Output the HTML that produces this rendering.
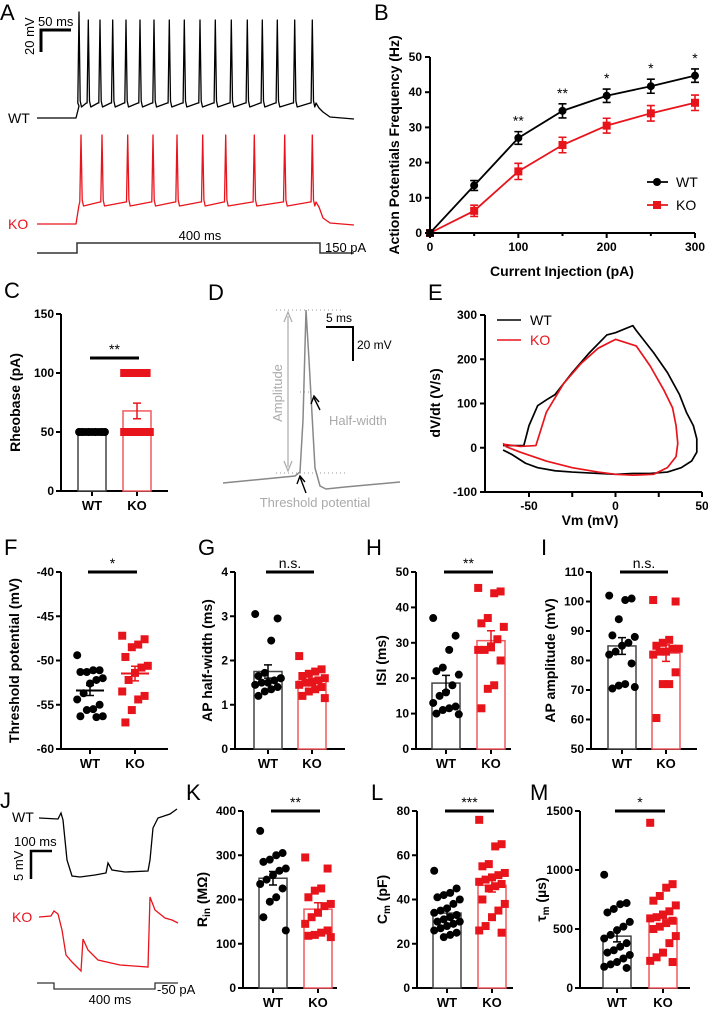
<!DOCTYPE html>
<html><head><meta charset="utf-8">
<style>
html,body{margin:0;padding:0;background:#fff;}
svg{display:block;font-family:"Liberation Sans",Arial,sans-serif;}
.tk{font-size:12px;font-weight:bold;}
.tt{font-size:14px;font-weight:bold;}
.lt{font-size:22px;}
</style></head>
<body>
<svg id="fig" width="708" height="1010" viewBox="0 0 708 1010" xmlns="http://www.w3.org/2000/svg">
<g id="gA"></g>
<g id="gB"></g>
<g id="gC"></g>
<g id="gD"></g>
<g id="gE"></g>
<g id="gDots"></g>
<g id="gJ"></g>
</svg>
<script>
// ---- Panel B data ----
var bCurrents=[0,50,100,150,200,250,300];
var bWT=[0,13.5,27,34.7,39,41.7,44.7];
var bWTerr=[0.8,1.4,1.8,2,1.9,2,1.9];
var bKO=[0,6.3,17.5,25,30.5,34,37];
var bKOerr=[0.8,1.6,2.3,2.2,2.1,2.2,2.2];
var bStars=["","","**","**","*","*","*"];
var bYTicks=[0,10,20,30,40,50];
var bXTicks=[0,100,200,300];
// ---- Panel A spike times (x in px along trace) ----
var aWTSpikes=[79,88.3,100,112.7,126,140,154,169.3,184.3,200,215.3,231.3,247.3,262.3,277.3,294.7,312.3];
var aKOSpikes=[81,102,127.7,153,177,202.7,225.7,254.3,284.7,312.3];
// ---- Panel C ----
var cWT=[50,50,50,50,50,50,50,50,50,50,50,50,50,50,50];
var cKO=[50,50,50,50,50,50,50,50,50,100,100,100,100,100];
// ---- Panel E loops [Vm, dV/dt] ----
var eWTv=[-65,-60,-52,-45,-35,-25,-10,0,10,20,30,38,44,47,47,45,41,37,30,22,12,10,0,-5,-15,-25,-35,-40,-45,-50,-53,-65];
var eWTd=[-5,-15,-35,-45,-52,-55,-58,-60,-58,-58,-55,-45,-30,-10,20,50,80,120,170,215,265,276,260,255,215,170,120,108,95,50,5,5];
var eKOv=[-65,-63,-55,-40,-25,-10,0,10,22,30,35,36,35,33,28,20,12,0,-10,-20,-30,-40,-46,-55,-65];
var eKOd=[10,2,-10,-30,-45,-55,-60,-62,-60,-45,-20,10,50,90,130,185,230,245,225,190,145,80,5,3,8];
// ---- scatter panels ----
var fWT=[-49.4,-51.1,-51.1,-51.3,-51.3,-52,-52.2,-52.6,-53.7,-54.4,-55,-55.5,-55.6,-56.3,-56.3,-56.4];
var fKO=[-47.2,-47.6,-48.2,-48.5,-49.6,-50.6,-50.8,-51.4,-52.2,-53.5,-54.0,-54.4,-55.6,-57.0];
var gWT=[3.05,2.95,2.45,1.72,1.65,1.6,1.55,1.5,1.5,1.45,1.4,1.35,1.3,1.2,1.6];
var gKO=[2.1,1.8,1.75,1.7,1.65,1.6,1.55,1.5,1.5,1.45,1.4,1.35,1.3,1.2,1.15];
var hWT=[37,32,28,23,22,21,18,16,15,13,12,11.5,11,10,9.8];
var hKO=[45.5,44.5,44,37,35.5,34.5,31,29,28,28,25,18,17,11.5];
var iWT=[102,101,100.5,94,88.5,88,86,85,83,82,79,72,71.5,70.5,71];
var iKO=[100.5,100,87,86,85,84,84,83,83,82,76,72,72,60.5];
var kWT=[355,305,300,290,285,270,265,255,245,235,225,205,195,160,130];
var kKO=[295,270,225,220,205,190,185,170,160,145,130,125,120,118,115];
var lWT=[53,45,43,42,41,40,38,36,35,34,33,32,31,30,30,29,28,27,26,25,24,23];
var lKO=[76,65,64,56,55,52,51,50,49,48,47,46,45,40,38,35,32,28,26,25];
var mWT=[960,720,710,670,640,560,520,490,450,420,380,350,320,300,280,250,220,200,180,170];
var mKO=[1400,880,850,780,740,700,650,620,600,590,570,550,520,500,440,380,300,260,230,220];

var NS="http://www.w3.org/2000/svg";
function mk(parent,tag,attrs,txt){var e=document.createElementNS(NS,tag);for(var k in attrs)e.setAttribute(k,attrs[k]);if(txt!==undefined)e.textContent=txt;parent.appendChild(e);return e;}
function lin(d0,d1,r0,r1){return function(v){return r0+(v-d0)*(r1-r0)/(d1-d0);};}
function mean(a){var s=0;for(var i=0;i<a.length;i++)s+=a[i];return s/a.length;}
function sem(a){var m=mean(a),s=0;for(var i=0;i<a.length;i++)s+=(a[i]-m)*(a[i]-m);return Math.sqrt(s/(a.length-1))/Math.sqrt(a.length);}
function letter(g,t,x,y){var e=mk(g,'text',{x:x,y:y,'class':'lt'},t);

}

// ===== Panel A =====
(function(){
var g=document.getElementById('gA');
letter(g,'A',0,20);
function trace(spikes,base,plat,peak,firstPeak,col,name){
 var d='M37,'+base+' L76,'+base+' L79,'+(plat+2);
 for(var i=0;i<spikes.length;i++){var s=spikes[i];var p=(i==0&&firstPeak)?firstPeak:peak;
  d+=' L'+(s-1.2)+','+(plat-1)+' L'+s+','+p+' L'+(s+1.2)+','+(plat-3)+' L'+(s+2.5)+','+(plat+3);
  if(i<spikes.length-1){d+=' L'+(spikes[i+1]-2)+','+(plat-1);} }
 d+=' L316,'+(plat-1)+' L319,'+(plat+4)+' L323,'+(base-6)+' L330,'+(base-1)+' L354,'+(base+1);
 var p=mk(g,'path',{d:d,fill:'none',stroke:col,'stroke-width':1.3,'stroke-linejoin':'round'});
 
 
}
trace(aWTSpikes,118,104,20,12,'#000','wt-trace');
trace(aKOSpikes,224,203,135,null,'#e8141c','ko-trace');
var st=mk(g,'path',{d:'M37,253 L77,253 L77,243 L320,243 L320,253 L354,253',fill:'none',stroke:'#333','stroke-width':1.5});

mk(g,'text',{x:200,y:240,'font-size':13,'text-anchor':'middle'},'400 ms');
mk(g,'text',{x:325,y:252,'font-size':13},'150 pA');
mk(g,'text',{x:8,y:123,'font-size':14},'WT');
mk(g,'text',{x:8,y:229,'font-size':14,fill:'#e8141c'},'KO');
var sb=mk(g,'path',{d:'M71,30 L41,30 L41,52',fill:'none',stroke:'#000','stroke-width':3});

mk(g,'text',{x:38,y:26,'font-size':13},'50 ms');
mk(g,'text',{x:0,y:0,'font-size':13,transform:'translate(34,55) rotate(-90)'},'20 mV');
})();

// ===== Panel B =====
(function(){
var g=document.getElementById('gB');
letter(g,'B',374,20);
var X=lin(0,300,430,695),Y=lin(0,50,233,57);
mk(g,'line',{x1:430,y1:Y(50),x2:430,y2:233,stroke:'#000','stroke-width':2});
mk(g,'line',{x1:430,y1:233,x2:695,y2:233,stroke:'#000','stroke-width':2});
bYTicks.forEach(function(t){mk(g,'line',{x1:425,y1:Y(t),x2:430,y2:Y(t),stroke:'#000','stroke-width':2});mk(g,'text',{x:422,y:Y(t)+4,'text-anchor':'end','class':'tk'},t);});
bCurrents.forEach(function(t){mk(g,'line',{x1:X(t),y1:233,x2:X(t),y2:(t%100==0?238:236),stroke:'#000','stroke-width':2});});
bXTicks.forEach(function(t){mk(g,'text',{x:X(t),y:251,'text-anchor':'middle','class':'tk'},t);});
mk(g,'text',{x:562,y:276,'text-anchor':'middle','class':'tt'},'Current Injection (pA)');
mk(g,'text',{x:0,y:0,'text-anchor':'middle','class':'tt',transform:'translate(399,145) rotate(-90)'},'Action Potentials Frequency (Hz)');
function series(vals,errs,col,sq,name){
 var d='';vals.forEach(function(v,i){d+=(i?' L':'M')+X(bCurrents[i])+','+Y(v);});
 var p=mk(g,'path',{d:d,fill:'none',stroke:col,'stroke-width':1.8});
 
 vals.forEach(function(v,i){var x=X(bCurrents[i]);
  mk(g,'path',{d:'M'+(x-4)+','+Y(v+errs[i])+' H'+(x+4)+' M'+x+','+Y(v+errs[i])+' V'+Y(v-errs[i])+' M'+(x-4)+','+Y(v-errs[i])+' H'+(x+4),stroke:col,'stroke-width':1.6,fill:'none'});
  var m=sq?mk(g,'rect',{x:x-4,y:Y(v)-4,width:8,height:8,fill:col}):mk(g,'circle',{cx:x,cy:Y(v),r:4,fill:col});
  
 });
}
series(bKO,bKOerr,'#e8141c',true,'ko');
series(bWT,bWTerr,'#000',false,'wt');
bStars.forEach(function(s,i){if(s)mk(g,'text',{x:X(bCurrents[i]),y:Y(bWT[i]+bWTerr[i])-6,'text-anchor':'middle','font-size':14},s);});
mk(g,'line',{x1:647,y1:182,x2:668,y2:182,stroke:'#000','stroke-width':1.8});mk(g,'circle',{cx:657,cy:182,r:4,fill:'#000'});
mk(g,'text',{x:676,y:187,'font-size':14},'WT');
mk(g,'line',{x1:647,y1:205,x2:668,y2:205,stroke:'#e8141c','stroke-width':1.8});mk(g,'rect',{x:653,y:201,width:8,height:8,fill:'#e8141c'});
mk(g,'text',{x:676,y:210,'font-size':14},'KO');
})();

// ===== generic bar/scatter panel =====
function panel(o){
 var g=mk(document.getElementById(o.parent),'g',{});
 
 
 letter(g,o.letter,o.lx,o.ly);
 var Y=lin(o.min,o.max,o.y0,o.y1);
 mk(g,'line',{x1:o.ax,y1:o.y1,x2:o.ax,y2:o.y0,stroke:'#000','stroke-width':2});
 mk(g,'line',{x1:o.ax,y1:o.y0,x2:o.xend,y2:o.y0,stroke:'#000','stroke-width':2});
 o.ticks.forEach(function(t){mk(g,'line',{x1:o.ax-5,y1:Y(t),x2:o.ax,y2:Y(t),stroke:'#000','stroke-width':2});mk(g,'text',{x:o.ax-7,y:Y(t)+4,'text-anchor':'end','class':'tk'},t);});
 [[o.wx,'WT'],[o.kx,'KO']].forEach(function(p){mk(g,'line',{x1:p[0],y1:o.y0,x2:p[0],y2:o.y0+5,stroke:'#000','stroke-width':2});mk(g,'text',{x:p[0],y:o.y0+19,'text-anchor':'middle','font-size':13,'font-weight':'bold'},p[1]);});
 var tl=mk(g,'text',{x:0,y:0,'text-anchor':'middle','class':'tt',transform:'translate('+o.tx+','+((o.y0+o.y1)/2)+') rotate(-90)'});
 tl.innerHTML=o.title;
 [[o.wt,o.wx,'#000',false,'wt'],[o.ko,o.kx,'#e8141c',true,'ko']].forEach(function(s){
  var m=mean(s[0]),e=sem(s[0]),x=s[1],c=s[2];
  if(o.bars){var b=mk(g,'rect',{x:x-14,y:Y(m),width:28,height:o.y0-Y(m),fill:'#fff',stroke:s[3]?'#f05a5f':'#444','stroke-width':1.5});
   }
  s[0].forEach(function(v,i){var j=((i*7)%9-4)*3.2;var pt;
   if(s[3]){pt=mk(g,'rect',{x:x+j-4,y:Y(v)-4,width:8,height:8,fill:c});}else{pt=mk(g,'circle',{cx:x+j,cy:Y(v),r:4,fill:c});}
   });
  mk(g,'path',{d:'M'+(x-4)+','+Y(m+e)+' H'+(x+4)+' M'+x+','+Y(m+e)+' V'+Y(m-e)+' M'+(x-4)+','+Y(m-e)+' H'+(x+4),stroke:c,'stroke-width':1.5,fill:'none'});
  if(!o.bars)mk(g,'line',{x1:x-14,y1:Y(m),x2:x+14,y2:Y(m),stroke:c,'stroke-width':2});
 });
 var sy=o.sigY||o.y1;
 mk(g,'line',{x1:o.wx-2,y1:sy,x2:o.kx+2,y2:sy,stroke:'#000','stroke-width':3});
 mk(g,'text',{x:(o.wx+o.kx)/2,y:sy-4,'text-anchor':'middle','font-size':14},o.sig);
}
panel({parent:'gC',name:'rheobase-chart',letter:'C',lx:4,ly:298,ax:61,xend:168,y0:491,y1:314,min:0,max:150,ticks:[0,50,100,150],wx:92,kx:137,wt:cWT,ko:cKO,bars:true,sig:'**',sigY:358,tx:20,title:'Rheobase (pA)'});
panel({parent:'gDots',name:'threshold-chart',letter:'F',lx:4,ly:555,ax:61,xend:168,y0:749,y1:572,min:-60,max:-40,ticks:[-60,-55,-50,-45,-40],wx:90,kx:135,wt:fWT,ko:fKO,bars:false,sig:'*',tx:19,title:'Threshold potential (mV)'});
panel({parent:'gDots',name:'half-width-chart',letter:'G',lx:198,ly:555,ax:235,xend:345,y0:749,y1:572,min:0,max:4,ticks:[0,1,2,3,4],wx:268,kx:312,wt:gWT,ko:gKO,bars:true,sig:'n.s.',tx:212,title:'AP half-width (ms)'});
panel({parent:'gDots',name:'isi-chart',letter:'H',lx:366,ly:555,ax:416,xend:511,y0:749,y1:572,min:0,max:50,ticks:[0,10,20,30,40,50],wx:446,kx:491,wt:hWT,ko:hKO,bars:true,sig:'**',tx:386,title:'ISI (ms)'});
panel({parent:'gDots',name:'amplitude-chart',letter:'I',lx:541,ly:555,ax:591,xend:697,y0:749,y1:572,min:50,max:110,ticks:[50,60,70,80,90,100,110],wx:622,kx:666,wt:iWT,ko:iKO,bars:true,sig:'n.s.',tx:555,title:'AP amplitude (mV)'});
panel({parent:'gDots',name:'rin-chart',letter:'K',lx:186,ly:800,ax:243,xend:337,y0:988,y1:811,min:0,max:400,ticks:[0,100,200,300,400],wx:273,kx:318,wt:kWT,ko:kKO,bars:true,sig:'**',tx:207,title:'R<tspan font-size="10" dy="3">in</tspan><tspan dy="-3"> (MΩ)</tspan>'});
panel({parent:'gDots',name:'cm-chart',letter:'L',lx:371,ly:800,ax:417,xend:513,y0:988,y1:811,min:0,max:80,ticks:[0,20,40,60,80],wx:447,kx:492,wt:lWT,ko:lKO,bars:true,sig:'***',tx:387,title:'C<tspan font-size="10" dy="3">m</tspan><tspan dy="-3"> (pF)</tspan>'});
panel({parent:'gDots',name:'tau-chart',letter:'M',lx:530,ly:800,ax:580,xend:690,y0:988,y1:811,min:0,max:1500,ticks:[0,500,1000,1500],wx:617,kx:663,wt:mWT,ko:mKO,bars:true,sig:'*',tx:546,title:'τ<tspan font-size="10" dy="3">m</tspan><tspan dy="-3"> (µs)</tspan>'});

// ===== Panel D =====
(function(){
var g=document.getElementById('gD');
letter(g,'D',208,300);
mk(g,'line',{x1:276,y1:310,x2:341,y2:310,stroke:'#999','stroke-dasharray':'1,3'});
mk(g,'line',{x1:276,y1:473,x2:345,y2:473,stroke:'#999','stroke-dasharray':'1,3'});
mk(g,'line',{x1:300,y1:392,x2:312,y2:392,stroke:'#999','stroke-dasharray':'1,3'});
var p=mk(g,'path',{d:'M223,483 L295,476 L300,472 L303,420 L306,310 L309,360 L315,468 L320,486 L326,489 L345,487 L400,482',fill:'none',stroke:'#888','stroke-width':1.5});

mk(g,'path',{d:'M288,316 V467 M284,322 L288,312 L292,322 M284,461 L288,471 L292,461',fill:'none',stroke:'#aaa','stroke-width':1.2});
mk(g,'text',{x:0,y:0,'font-size':13,fill:'#aaa','text-anchor':'middle',transform:'translate(282,393) rotate(-90)'},'Amplitude');
mk(g,'text',{x:329,y:425,'font-size':13,fill:'#aaa'},'Half-width');
mk(g,'text',{x:315,y:507,'font-size':13,fill:'#aaa','text-anchor':'middle'},'Threshold potential');
mk(g,'path',{d:'M320,410 L314,398 M311,404 L314,396 L319,402',fill:'none',stroke:'#000','stroke-width':1.4});
mk(g,'path',{d:'M306,493 L300,477 M297,484 L300,476 L305,482',fill:'none',stroke:'#000','stroke-width':1.4});
mk(g,'path',{d:'M326,327 H353 V361',fill:'none',stroke:'#000','stroke-width':2});
mk(g,'text',{x:326,y:322,'font-size':12},'5 ms');
mk(g,'text',{x:357,y:349,'font-size':12},'20 mV');
})();

// ===== Panel E =====
(function(){
var g=document.getElementById('gE');
letter(g,'E',428,300);
var X=lin(-50,50,529,702),Y=lin(-100,300,492,315);
mk(g,'line',{x1:485,y1:315,x2:485,y2:492,stroke:'#000','stroke-width':2});
mk(g,'line',{x1:485,y1:492,x2:702,y2:492,stroke:'#000','stroke-width':2});
[-100,0,100,200,300].forEach(function(t){mk(g,'line',{x1:480,y1:Y(t),x2:485,y2:Y(t),stroke:'#000','stroke-width':2});mk(g,'text',{x:477,y:Y(t)+4,'text-anchor':'end','class':'tk'},t);});
[-50,-25,0,25,50].forEach(function(t){mk(g,'line',{x1:X(t),y1:492,x2:X(t),y2:497,stroke:'#000','stroke-width':2});if(t%50==0)mk(g,'text',{x:X(t),y:510,'text-anchor':'middle','class':'tk'},t);});
mk(g,'text',{x:590,y:525,'text-anchor':'middle','class':'tt'},'Vm (mV)');
mk(g,'text',{x:0,y:0,'text-anchor':'middle','class':'tt',transform:'translate(440,403) rotate(-90)'},'dV/dt (V/s)');
function loop(v,d,col,name){var s='';v.forEach(function(x,i){s+=(i?' L':'M')+X(x)+','+Y(d[i]);});
 var p=mk(g,'path',{d:s,fill:'none',stroke:col,'stroke-width':1.7,'stroke-linejoin':'round'});
 }
loop(eWTv,eWTd,'#000','wt-phase-plot');
loop(eKOv,eKOd,'#e8141c','ko-phase-plot');
mk(g,'line',{x1:497,y1:320,x2:521,y2:320,stroke:'#000','stroke-width':1.5});
mk(g,'text',{x:530,y:325,'font-size':14},'WT');
mk(g,'line',{x1:497,y1:340,x2:521,y2:340,stroke:'#e8141c','stroke-width':1.5});
mk(g,'text',{x:530,y:345,'font-size':14,fill:'#e8141c'},'KO');
})();

// ===== Panel J =====
(function(){
var g=document.getElementById('gJ');
letter(g,'J',0,808);
var w=mk(g,'path',{d:'M39,818 L58,819 L61,813 L63,820 L67,860 L72,876 L80,877 L95,875 L106,873 L108,863 L112,870 L125,872 L148,871 L150,860 L153,828 L158,818 L170,814 L177,809',fill:'none',stroke:'#000','stroke-width':1.3});

var k=mk(g,'path',{d:'M39,917 L51,916 L54,911 L58,914 L62,930 L66,955 L72,962 L81,971 L83,939 L88,950 L98,960 L120,965 L148,967 L150,897 L155,910 L165,918 L172,920 L178,923',fill:'none',stroke:'#e8141c','stroke-width':1.3});

mk(g,'path',{d:'M37,983 L54,983 L54,989 L155,989 L155,983 L178,983',fill:'none',stroke:'#333','stroke-width':1.3});
mk(g,'text',{x:110,y:1004,'font-size':13,'text-anchor':'middle'},'400 ms');
mk(g,'text',{x:157,y:994,'font-size':13},'-50 pA');
mk(g,'text',{x:12,y:822,'font-size':14},'WT');
mk(g,'text',{x:12,y:922,'font-size':14,fill:'#e8141c'},'KO');
mk(g,'path',{d:'M52,851 H31 V879',fill:'none',stroke:'#000','stroke-width':2.5});
mk(g,'text',{x:14,y:846,'font-size':13},'100 ms');
mk(g,'text',{x:0,y:0,'font-size':13,transform:'translate(23,881) rotate(-90)'},'5 mV');
})();
</script>
</body></html>
